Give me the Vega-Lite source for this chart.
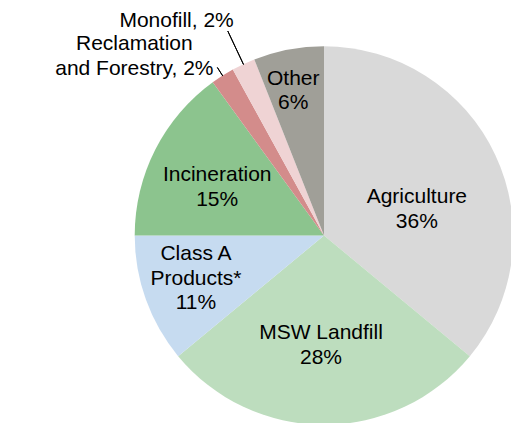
{
  "$schema": "https://vega.github.io/schema/vega-lite/v6.json",
  "width": 374,
  "height": 374,
  "autosize": {"type": "none"},
  "padding": {"left": 137, "top": 48.5, "right": 0, "bottom": 0},
  "background": "white",
  "view": {"stroke": null},
  "data": {
    "values": [
      {"category": "Agriculture", "share": 36, "rank": 1, "label": "Agriculture\n36%"},
      {"category": "MSW Landfill", "share": 28, "rank": 2, "label": "MSW Landfill\n28%"},
      {"category": "Class A Products*", "share": 11, "rank": 3, "label": "Class A\nProducts*\n11%"},
      {"category": "Incineration", "share": 15, "rank": 4, "label": "Incineration\n15%"},
      {"category": "Reclamation and Forestry", "share": 2, "rank": 5, "label": "Reclamation\nand Forestry, 2%"},
      {"category": "Monofill", "share": 2, "rank": 6, "label": "Monofill, 2%"},
      {"category": "Other", "share": 6, "rank": 7, "label": "Other\n6%"}
    ]
  },
  "encoding": {
    "theta": {"field": "share", "type": "quantitative", "stack": true},
    "order": {"field": "rank", "type": "quantitative"},
    "detail": {"field": "category", "type": "nominal"}
  },
  "layer": [
    {
      "mark": {"type": "arc", "outerRadius": 189.3, "strokeWidth": 0},
      "encoding": {
        "color": {
          "field": "category",
          "type": "nominal",
          "legend": null,
          "scale": {
            "domain": ["Agriculture", "MSW Landfill", "Class A Products*", "Incineration", "Reclamation and Forestry", "Monofill", "Other"],
            "range": ["#D9D9D9", "#BDDDBE", "#C6DBF0", "#8CC48E", "#D38C8B", "#EFD3D4", "#A09F98"]
          }
        }
      }
    },
    {
      "mark": {"type": "arc", "outerRadius": 226, "innerRadius": 189, "padAngle": 3, "stroke": "#000000", "strokeWidth": 1, "fillOpacity": 0},
      "encoding": {
        "strokeOpacity": {"condition": {"test": "datum.category === 'Monofill'", "value": 1}, "value": 0}
      }
    },
    {
      "mark": {"type": "arc", "outerRadius": 199, "innerRadius": 189, "padAngle": 3, "stroke": "#000000", "strokeWidth": 1, "fillOpacity": 0},
      "encoding": {
        "strokeOpacity": {"condition": {"test": "datum.category === 'Reclamation and Forestry'", "value": 1}, "value": 0}
      }
    },
    {
      "mark": {"type": "text", "radius": 96, "dx": 6, "dy": 2.75, "font": "Liberation Sans", "fontSize": 21, "lineBreak": "\n", "lineHeight": 24.5, "align": "center", "baseline": "middle", "fill": "#000000"},
      "encoding": {
        "text": {"condition": {"test": "datum.category === 'Agriculture'", "field": "label", "type": "nominal"}, "value": ""}
      }
    },
    {
      "mark": {"type": "text", "radius": 110, "dx": -3, "dy": -12.25, "font": "Liberation Sans", "fontSize": 21, "lineBreak": "\n", "lineHeight": 24.5, "align": "center", "baseline": "middle", "fill": "#000000"},
      "encoding": {
        "text": {"condition": {"test": "datum.category === 'MSW Landfill'", "field": "label", "type": "nominal"}, "value": ""}
      }
    },
    {
      "mark": {"type": "text", "radius": 135, "dx": -1, "dy": -27, "font": "Liberation Sans", "fontSize": 21, "lineBreak": "\n", "lineHeight": 24.5, "align": "center", "baseline": "middle", "fill": "#000000"},
      "encoding": {
        "text": {"condition": {"test": "datum.category === 'Class A Products*'", "field": "label", "type": "nominal"}, "value": ""}
      }
    },
    {
      "mark": {"type": "text", "radius": 116.5, "dx": -3, "dy": -7.25, "font": "Liberation Sans", "fontSize": 21, "lineBreak": "\n", "lineHeight": 24.5, "align": "center", "baseline": "middle", "fill": "#000000"},
      "encoding": {
        "text": {"condition": {"test": "datum.category === 'Incineration'", "field": "label", "type": "nominal"}, "value": ""}
      }
    },
    {
      "mark": {"type": "text", "radius": 148, "dx": -3, "dy": -11.25, "font": "Liberation Sans", "fontSize": 21, "lineBreak": "\n", "lineHeight": 24.5, "align": "center", "baseline": "middle", "fill": "#000000"},
      "encoding": {
        "text": {"condition": {"test": "datum.category === 'Other'", "field": "label", "type": "nominal"}, "value": ""}
      }
    },
    {
      "mark": {"type": "text", "radius": 226, "dx": 6, "dy": -4, "font": "Liberation Sans", "fontSize": 21, "lineBreak": "\n", "lineHeight": 24.5, "align": "right", "baseline": "alphabetic", "fill": "#000000"},
      "encoding": {
        "text": {"condition": {"test": "datum.category === 'Monofill'", "field": "label", "type": "nominal"}, "value": ""}
      }
    },
    {
      "mark": {"type": "text", "radius": 199, "dx": -83, "dy": -17, "font": "Liberation Sans", "fontSize": 21, "lineBreak": "\n", "lineHeight": 24.5, "align": "center", "baseline": "alphabetic", "fill": "#000000"},
      "encoding": {
        "text": {"condition": {"test": "datum.category === 'Reclamation and Forestry'", "field": "label", "type": "nominal"}, "value": ""}
      }
    }
  ]
}
